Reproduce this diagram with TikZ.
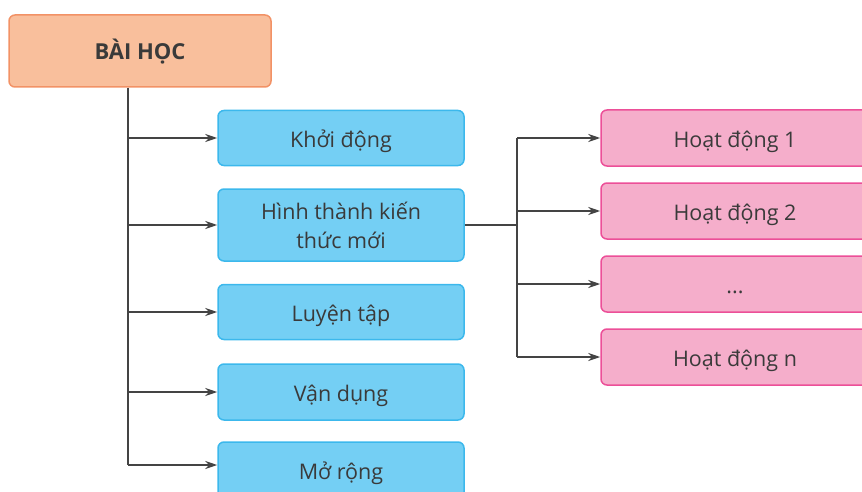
\documentclass[tikz,border=0pt]{standalone}
\usepackage{fontspec}
\setmainfont{Open Sans}
\usetikzlibrary{arrows.meta}
\definecolor{salmonfill}{HTML}{F9BF9C}
\definecolor{salmonline}{HTML}{F29266}
\definecolor{bluefill}{HTML}{74CFF4}
\definecolor{blueline}{HTML}{3CB8EC}
\definecolor{pinkfill}{HTML}{F5AECB}
\definecolor{pinkline}{HTML}{EC4F98}
\definecolor{txt}{HTML}{3A3A3A}
\definecolor{conn}{HTML}{444444}
\tikzset{
  box/.style={draw, line width=1.5pt, rounded corners=6pt, text=txt, align=center, font=\fontsize{21.5}{29}\selectfont, inner sep=0pt},
  oneline/.style={text height=22pt, text depth=4pt},
  rootbox/.style={box, oneline, fill=salmonfill, draw=salmonline, minimum width=262pt, minimum height=72pt, font=\fontsize{22}{26}\selectfont\bfseries},
  bluebox/.style={box, fill=bluefill, draw=blueline, minimum width=246pt},
  pinkbox/.style={box, oneline, fill=pinkfill, draw=pinkline, minimum width=268pt, minimum height=56pt},
  conline/.style={draw=conn, line width=2pt},
  arr/.style={conline, -{Stealth[length=12pt,width=8pt]}}
}
\begin{document}
\begin{tikzpicture}[x=1pt,y=-1pt]
\useasboundingbox (0,0) rectangle (862,492);
\clip (0,0) rectangle (862,492);
\node[rootbox] (root) at (140,51) {BÀI HỌC};
\node[bluebox, oneline, minimum height=55pt] (b1) at (341,138) {Khởi động};
\node[bluebox, minimum height=72pt] (b2) at (341,225) {Hình thành kiến\\thức mới};
\node[bluebox, oneline, minimum height=55pt] (b3) at (341,312) {Luyện tập};
\node[bluebox, oneline, minimum height=56pt] (b4) at (341,392) {Vận dụng};
\node[bluebox, oneline, minimum height=56pt] (b5) at (341,470) {Mở rộng};
\node[pinkbox] (p1) at (735,138) {Hoạt động 1};
\node[pinkbox] (p2) at (735,211) {Hoạt động 2};
\node[pinkbox] (p3) at (735,284) {...};
\node[pinkbox] (p4) at (735,357) {Hoạt động n};
\coordinate (t0) at (128,87);
\coordinate (t5) at (128,465);
\draw[conline] (root.south -| t0) -- (t5);
\draw[arr] (128,138) -- (b1.west);
\draw[arr] (128,225) -- (b2.west);
\draw[arr] (128,312) -- (b3.west);
\draw[arr] (128,392) -- (b4.west);
\draw[arr] (t5) -- (t5 -| b5.west);
\coordinate (j) at (517,225);
\draw[conline] (b2.east) -- (j);
\draw[conline] (517,138) -- (517,357);
\draw[arr] (517,138) -- (p1.west);
\draw[arr] (517,211) -- (p2.west);
\draw[arr] (517,284) -- (p3.west);
\draw[arr] (517,357) -- (p4.west);
\end{tikzpicture}
\end{document}
